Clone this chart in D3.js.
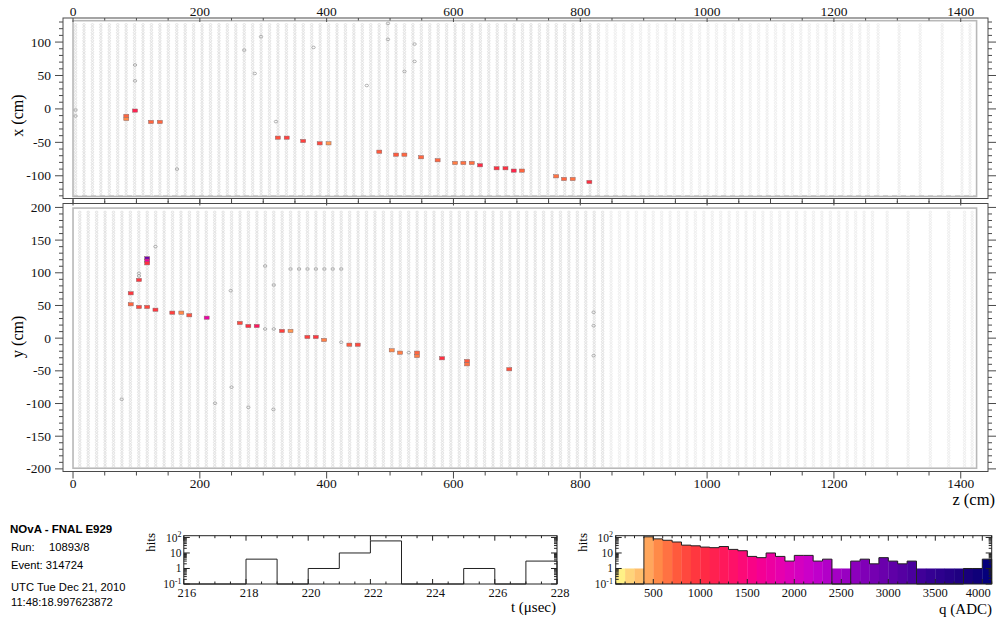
<!DOCTYPE html>
<html>
<head>
<meta charset="utf-8">
<script src="https://cdn.jsdelivr.net/npm/d3@7"></script>
<style>
  body { margin: 0; background: #fff; }
  svg { display: block; }
  .serif { font-family: "Liberation Serif", "Times New Roman", serif; }
  .sans { font-family: "Liberation Sans", Arial, Helvetica, sans-serif; }
</style>
</head>
<body>
<svg id="display" width="998" height="620"></svg>
<script>
// ---------------- event data ----------------
const zTickValues = [0, 200, 400, 600, 800, 1000, 1200, 1400];
const xTickValues = [-100, -50, 0, 50, 100];
const yTickValues = [-200, -150, -100, -50, 0, 50, 100, 150, 200];

// hits in the x view (z, x in cm; q in ADC)
const xHitZ = [84, 84, 97.8, 123, 137, 323, 337, 363, 389, 403, 483, 509.5, 522.6, 549, 575, 602.5, 615.6, 628.8, 642, 668, 682, 695, 708, 762, 774.4, 788, 814.3];
const xHitX = [-10.5, -15, -2.5, -19.5, -19.5, -43, -43, -48, -51.5, -51.5, -64, -68.4, -68.4, -72.3, -76.8, -80.8, -80.8, -80.8, -84.3, -88.8, -88.8, -92.3, -92.3, -100.8, -104.8, -104.8, -109.3];
const xHitQ = [700, 550, 1150, 700, 700, 800, 900, 900, 850, 500, 750, 750, 700, 700, 700, 600, 650, 650, 1050, 1000, 1000, 1100, 700, 650, 700, 650, 1000];

// hits in the y view (z, y in cm; q in ADC)
const yHitZ = [117, 117, 117, 104, 91, 91, 104, 117, 130, 156.6, 170.8, 183.4, 210.8, 263, 276.5, 289.7, 329.6, 343, 369.6, 382.8, 396, 435.8, 449, 502.6, 515.8, 542.6, 542.6, 582, 621.5, 621.5, 688];
const yHitY = [122.2, 118.5, 114.5, 89, 68.6, 51.8, 47.7, 47.7, 43.5, 39, 39, 35, 31.3, 23.2, 18.6, 18.6, 11, 11, 1.8, 1.8, -2.8, -10, -10, -18.6, -22.2, -22.2, -27.3, -30.8, -35, -40, -47.6];
const yHitQ = [2900, 1700, 1000, 950, 950, 700, 850, 850, 950, 900, 550, 800, 1800, 850, 1000, 1300, 900, 500, 900, 950, 600, 750, 850, 550, 600, 700, 600, 1000, 750, 650, 800];

// hits outside the time window (drawn in grey)
const xGrayZ = [4, 4, 97.8, 97.8, 164, 296.5, 270, 286.7, 320, 379.3, 463.3, 496.7, 496.7, 538.7, 538.7, 522.7];
const xGrayX = [-1.6, -10.6, 42, 65.7, -90, 108, 88, 53, -19, 92, 35, 128, 104, 97, 71, 56];
const yGrayZ = [104, 104, 303, 316.6, 423, 529.5, 343, 356.5, 369.8, 383, 396.4, 409.6, 423, 248.7, 130, 303, 316.6, 821, 821, 821, 76.8, 250, 276.5, 224, 316];
const yGrayY = [99.2, 95.1, 14, 14, -6.3, -22.2, 105.8, 105.8, 105.8, 105.8, 105.8, 105.8, 105.8, 72.6, 140, 110.4, 81.3, 39.6, 19, -26.8, -93.5, -75, -105.8, -99.6, -109];

// hit-time histogram (1 usec bins)
const tBinLow = [216, 217, 218, 219, 220, 221, 222, 223, 224, 225, 226, 227];
const tBinCount = [0, 0, 4, 0, 1, 10, 60, 0, 0, 1, 0, 3];
const tTickValues = [216, 218, 220, 222, 224, 226, 228];

// charge histogram (100 ADC bins)
const qBinLow = [100, 200, 300, 400, 500, 600, 700, 800, 900, 1000, 1100, 1200, 1300, 1400, 1500, 1600, 1700, 1800, 1900, 2000,
                 2100, 2200, 2300, 2400, 2500, 2600, 2700, 2800, 2900, 3000, 3100, 3200, 3300, 3400, 3500, 3600, 3700, 3800, 3900, 4000];
const qBinCount = [0, 0, 0, 110, 81, 66, 51, 32, 29, 24, 22, 26, 17, 14, 6, 5, 10, 6, 3, 7,
                   7, 3, 4, 0, 0, 3, 4, 2, 5, 3, 2, 3, 0, 0, 0, 0, 0, 1, 1, 4];
const qTickValues = [500, 1000, 1500, 2000, 2500, 3000, 3500, 4000];

// charge colour palette
const paletteQ = [100, 250, 400, 550, 750, 1000, 1300, 1600, 1900, 2200, 2500, 2800, 3100, 3500, 3900, 4100];
const paletteColor = ["#ffff8c", "#ffd47a", "#ffb466", "#ff8a48", "#ff5a3c", "#ff2e40", "#ff1460", "#f8008e", "#e200b4", "#c600cc", "#9e00c4", "#7a00b4", "#5a00a4", "#300090", "#140078", "#00007c"];

const infoTitle = "NOvA - FNAL E929";
const infoRun = ["Run:", "10893/8"];
const infoLines = ["Event: 314724", "UTC Tue Dec 21, 2010", "11:48:18.997623872"];

// ---------------- detector geometry ----------------
const planePitch = 13.3;           // cm between consecutive planes of one view
const firstXPlaneZ = 4.0;
const firstYPlaneZ = 10.65;
const activePlanesPerView = 95;
const instrumentedZ = 840;         // planes upstream of this read out during the spill
const muonXPlaneZ = [1269.7, 1302.8, 1336, 1370.7, 1402, 1414.6];
const muonYPlaneZ = [1284, 1317, 1352, 1381, 1406, 1418];
const cellPitch = 4.05;
const xCellSpan = [-129, 129];
const yCellSpan = [-196, 196];
const detZ = [0, 1425];
const detX = [-131, 132];
const detY = [-199, 199];

// ---------------- drawing ----------------
const svg = d3.select("#display");
const frameColor = "#4a4a4a";

const zScale = d3.scaleLinear().domain([-15.8, 1443]).range([63, 988]);
const xScale = d3.scaleLinear().domain([-134, 136]).range([198.5, 18]);
const yScale = d3.scaleLinear().domain([-204, 206]).range([471.5, 203.5]);
const qColor = d3.scaleLinear().domain(paletteQ).range(paletteColor).clamp(true);

function planeList(first, extra) {
  const out = d3.range(activePlanesPerView).map(k => first + planePitch * k);
  return out.concat(extra);
}

function cellPath(planes, span, vScale) {
  const cells = d3.range(span[0], span[1] + 0.01, cellPitch);
  const rx = 1.3, ry = 1.0;
  let p = "";
  for (const z of planes) {
    const cx = zScale(z);
    for (const c of cells) {
      const cy = vScale(c);
      p += `M${(cx - rx).toFixed(2)},${cy.toFixed(2)}a${rx},${ry} 0 1,0 ${2 * rx},0a${rx},${ry} 0 1,0 ${-2 * rx},0`;
    }
  }
  return p;
}

function drawView(vScale, planes, span, det, hitZ, hitV, hitQ, grayZ, grayV) {
  const g = svg.append("g");
  // unhit detector cells
  g.append("path").attr("d", cellPath(planes.filter(z => z < instrumentedZ), span, vScale))
    .attr("fill", "none").attr("stroke", "#d2d2d2").attr("stroke-width", 0.6);
  g.append("path").attr("d", cellPath(planes.filter(z => z >= instrumentedZ), span, vScale))
    .attr("fill", "none").attr("stroke", "#e2e2e2").attr("stroke-width", 0.55);
  // detector outline
  g.append("rect")
    .attr("x", zScale(det[0][0])).attr("y", vScale(det[1][1]))
    .attr("width", zScale(det[0][1]) - zScale(det[0][0]))
    .attr("height", vScale(det[1][0]) - vScale(det[1][1]))
    .attr("fill", "none").attr("stroke", "#b8b8b8").attr("stroke-width", 1.6);
  // out-of-time hits
  g.selectAll(".gray").data(d3.range(grayZ.length)).join("ellipse")
    .attr("cx", i => zScale(grayZ[i])).attr("cy", i => vScale(grayV[i]))
    .attr("rx", 1.7).attr("ry", 1.3)
    .attr("fill", "none").attr("stroke", "#999").attr("stroke-width", 0.75);
  // in-time hits coloured by charge
  const hw = 5, hh = 3.2;
  g.selectAll(".hit").data(d3.range(hitZ.length)).join("rect")
    .attr("x", i => zScale(hitZ[i]) - hw / 2).attr("y", i => vScale(hitV[i]) - hh / 2)
    .attr("width", hw).attr("height", hh)
    .attr("fill", i => qColor(hitQ[i])).attr("stroke", "#8c6a6a").attr("stroke-width", 0.5);
}

drawView(xScale, planeList(firstXPlaneZ, muonXPlaneZ), xCellSpan, [detZ, detX],
         xHitZ, xHitX, xHitQ, xGrayZ, xGrayX);
drawView(yScale, planeList(firstYPlaneZ, muonYPlaneZ), yCellSpan, [detZ, detY],
         yHitZ, yHitY, yHitQ, yGrayZ, yGrayY);

// dashed bottom row in the x view
svg.append("line")
  .attr("x1", zScale(0)).attr("x2", zScale(1425))
  .attr("y1", xScale(-129.5)).attr("y2", xScale(-129.5))
  .attr("stroke", "#c4c4c4").attr("stroke-width", 0.8).attr("stroke-dasharray", "5,4");

// frames and ticks of the two views
function frameAxes(vScale, vTicks, showTopLabels, showBottomLabels) {
  const [x0, x1] = zScale.range();
  const yb = vScale.range()[0], yt = vScale.range()[1];
  const g = svg.append("g").attr("stroke", frameColor).attr("fill", "none");
  g.append("rect").attr("x", x0).attr("y", yt).attr("width", x1 - x0).attr("height", yb - yt).attr("stroke-width", 1);
  d3.range(0, 1450, 50).forEach(z => {
    const major = z % 200 === 0;
    const x = zScale(z);
    if (showTopLabels) {
      g.append("line").attr("x1", x).attr("x2", x).attr("y1", yt).attr("y2", yt + (major ? 4 : 2.5));
    } else {
      g.append("line").attr("x1", x).attr("x2", x).attr("y1", yt).attr("y2", yt - (major ? 4 : 2.5));
    }
    g.append("line").attr("x1", x).attr("x2", x).attr("y1", yb).attr("y2", yb + (major ? 7 : 4));
  });
  const [vMin, vMax] = vScale.domain();
  d3.range(Math.ceil(vMin / 10) * 10, vMax, 10).forEach(v => {
    const L = v % 50 === 0 ? 8 : 4;
    const y = vScale(v);
    g.append("line").attr("x1", x0).attr("x2", x0 - L).attr("y1", y).attr("y2", y);
    g.append("line").attr("x1", x1).attr("x2", x1 + L).attr("y1", y).attr("y2", y);
  });
  const lab = svg.append("g").attr("class", "serif").attr("font-size", 13.5).attr("fill", "#111");
  lab.selectAll(".vt").data(vTicks).join("text")
    .attr("x", 51).attr("y", d => vScale(d) + 4.5).attr("text-anchor", "end").text(d => d);
  if (showTopLabels) {
    lab.selectAll(".zt").data(zTickValues).join("text")
      .attr("x", d => zScale(d)).attr("y", 15.5).attr("text-anchor", "middle").text(d => d);
  }
  if (showBottomLabels) {
    lab.selectAll(".zb").data(zTickValues).join("text")
      .attr("x", d => zScale(d)).attr("y", 487.5).attr("text-anchor", "middle").text(d => d);
  }
}
frameAxes(xScale, xTickValues, true, false);
frameAxes(yScale, yTickValues, false, true);

// axis titles
svg.append("text").attr("class", "serif").attr("font-size", 16)
  .attr("transform", `translate(23,${xScale(-10)}) rotate(-90)`).attr("text-anchor", "middle").text("x (cm)");
svg.append("text").attr("class", "serif").attr("font-size", 16)
  .attr("transform", `translate(23,${yScale(2)}) rotate(-90)`).attr("text-anchor", "middle").text("y (cm)");
svg.append("text").attr("class", "serif").attr("font-size", 16.5)
  .attr("x", 995).attr("y", 505).attr("text-anchor", "end").text("z (cm)");

// ---------------- run information ----------------
const info = svg.append("g").attr("class", "sans").attr("fill", "#000");
info.append("text").attr("x", 10).attr("y", 533).attr("font-size", 11.5).attr("font-weight", "bold").text(infoTitle);
info.append("text").attr("x", 11).attr("y", 550.5).attr("font-size", 11.2).text(infoRun[0]);
info.append("text").attr("x", 49).attr("y", 550.5).attr("font-size", 11.2).text(infoRun[1]);
info.selectAll(".il").data(infoLines).join("text")
  .attr("x", 11).attr("y", (d, i) => [569, 591, 605.5][i]).attr("font-size", 11.2).text(d => d);

// ---------------- histograms ----------------
function logAxis(g, sY, xl, xr) {
  const top = sY.domain()[1];
  const majors = [0.1, 1, 10, 100];
  const minors = [];
  [0.1, 1, 10, 100].forEach(d => { for (let m = 2; m <= 9; m++) minors.push(d * m); });
  majors.forEach(v => {
    g.append("line").attr("x1", xl).attr("x2", xl + 6).attr("y1", sY(v)).attr("y2", sY(v));
    g.append("line").attr("x1", xr).attr("x2", xr - 6).attr("y1", sY(v)).attr("y2", sY(v));
  });
  minors.filter(v => v <= top).forEach(v => {
    g.append("line").attr("x1", xl).attr("x2", xl + 3).attr("y1", sY(v)).attr("y2", sY(v));
    g.append("line").attr("x1", xr).attr("x2", xr - 3).attr("y1", sY(v)).attr("y2", sY(v));
  });
}

function logLabels(sY, xr) {
  const g = svg.append("g").attr("class", "serif").attr("font-size", 11.5).attr("fill", "#111").attr("text-anchor", "end");
  const t2 = g.append("text").attr("x", xr).attr("y", sY(100) + 4.5);
  t2.append("tspan").text("10");
  t2.append("tspan").attr("dy", -4.5).attr("font-size", 8).text("2");
  g.append("text").attr("x", xr).attr("y", sY(10) + 4).text("10");
  g.append("text").attr("x", xr).attr("y", sY(1) + 4).text("1");
  const t1 = g.append("text").attr("x", xr).attr("y", sY(0.1) + 3.5);
  t1.append("tspan").text("10");
  t1.append("tspan").attr("dy", -4).attr("font-size", 8).text("-1");
}

function stepPath(sX, sY, lows, counts, width) {
  const base = sY.range()[0];
  const yv = c => (c > 0 ? sY(c) : base);
  let p = `M${sX(lows[0])},${base}`;
  lows.forEach((lo, i) => {
    p += `L${sX(lo)},${yv(counts[i])}L${sX(lo + width)},${yv(counts[i])}`;
  });
  p += `L${sX(lows[lows.length - 1] + width)},${base}`;
  return p;
}

// time histogram
const tX = d3.scaleLinear().domain([216, 228]).range([183.8, 557]);
const tY = d3.scaleLog().domain([0.1, 130]).range([584, 535.7]);
{
  const g = svg.append("g");
  g.append("path").attr("d", stepPath(tX, tY, tBinLow, tBinCount, 1))
    .attr("fill", "none").attr("stroke", "#222").attr("stroke-width", 1);
  const ax = g.append("g").attr("stroke", "#222").attr("stroke-width", 1);
  ax.append("rect").attr("x", 183.8).attr("y", 535.7).attr("width", 557 - 183.8).attr("height", 584 - 535.7).attr("fill", "none");
  d3.range(216, 228.01, 0.5).forEach(t => {
    const L = t % 2 === 0 ? 5 : 2.5;
    ax.append("line").attr("x1", tX(t)).attr("x2", tX(t)).attr("y1", 584).attr("y2", 584 - L);
    ax.append("line").attr("x1", tX(t)).attr("x2", tX(t)).attr("y1", 535.7).attr("y2", 535.7 + L);
  });
  logAxis(ax, tY, 183.8, 557);
  logLabels(tY, 181.5);
  svg.append("g").attr("class", "serif").attr("font-size", 12.5).attr("fill", "#111")
    .selectAll("text").data(tTickValues).join("text")
    .attr("x", d => tX(d) + 3).attr("y", 597).attr("text-anchor", "middle").text(d => d);
  svg.append("text").attr("class", "serif").attr("font-size", 15).attr("x", 556).attr("y", 612)
    .attr("text-anchor", "end").text("t (\u03bcsec)");
  svg.append("text").attr("class", "serif").attr("font-size", 13)
    .attr("transform", "translate(155,533) rotate(-90)").attr("text-anchor", "end").text("hits");
}

// charge histogram
const qX = d3.scaleLinear().domain([100, 4100]).range([615.7, 991.7]);
const qY = d3.scaleLog().domain([0.1, 130]).range([584, 535.7]);
{
  const g = svg.append("g");
  g.selectAll("rect.bin").data(d3.range(qBinLow.length)).join("rect")
    .attr("x", i => qX(qBinLow[i])).attr("width", i => qX(qBinLow[i] + 100) - qX(qBinLow[i]) + 0.3)
    .attr("y", i => qY(Math.max(1, qBinCount[i])))
    .attr("height", i => 584 - qY(Math.max(1, qBinCount[i])))
    .attr("fill", i => qColor(qBinLow[i] + 50));
  g.append("path").attr("d", stepPath(qX, qY, qBinLow, qBinCount, 100))
    .attr("fill", "none").attr("stroke", "#222").attr("stroke-width", 1);
  const ax = g.append("g").attr("stroke", "#222").attr("stroke-width", 1);
  ax.append("rect").attr("x", 615.7).attr("y", 535.7).attr("width", 991.7 - 615.7).attr("height", 584 - 535.7).attr("fill", "none");
  d3.range(100, 4101, 100).forEach(q => {
    const L = q % 500 === 0 ? 5 : 2.5;
    ax.append("line").attr("x1", qX(q)).attr("x2", qX(q)).attr("y1", 584).attr("y2", 584 - L);
    ax.append("line").attr("x1", qX(q)).attr("x2", qX(q)).attr("y1", 535.7).attr("y2", 535.7 + L);
  });
  logAxis(ax, qY, 615.7, 991.7);
  logLabels(qY, 613);
  svg.append("g").attr("class", "serif").attr("font-size", 12.5).attr("fill", "#111")
    .selectAll("text").data(qTickValues).join("text")
    .attr("x", d => qX(d) - (d === 4000 ? 4 : 0)).attr("y", 596.5).attr("text-anchor", "middle").text(d => d);
  svg.append("text").attr("class", "serif").attr("font-size", 15).attr("x", 992).attr("y", 614)
    .attr("text-anchor", "end").text("q (ADC)");
  svg.append("text").attr("class", "serif").attr("font-size", 13)
    .attr("transform", "translate(587,533) rotate(-90)").attr("text-anchor", "end").text("hits");
}
</script>
</body>
</html>
